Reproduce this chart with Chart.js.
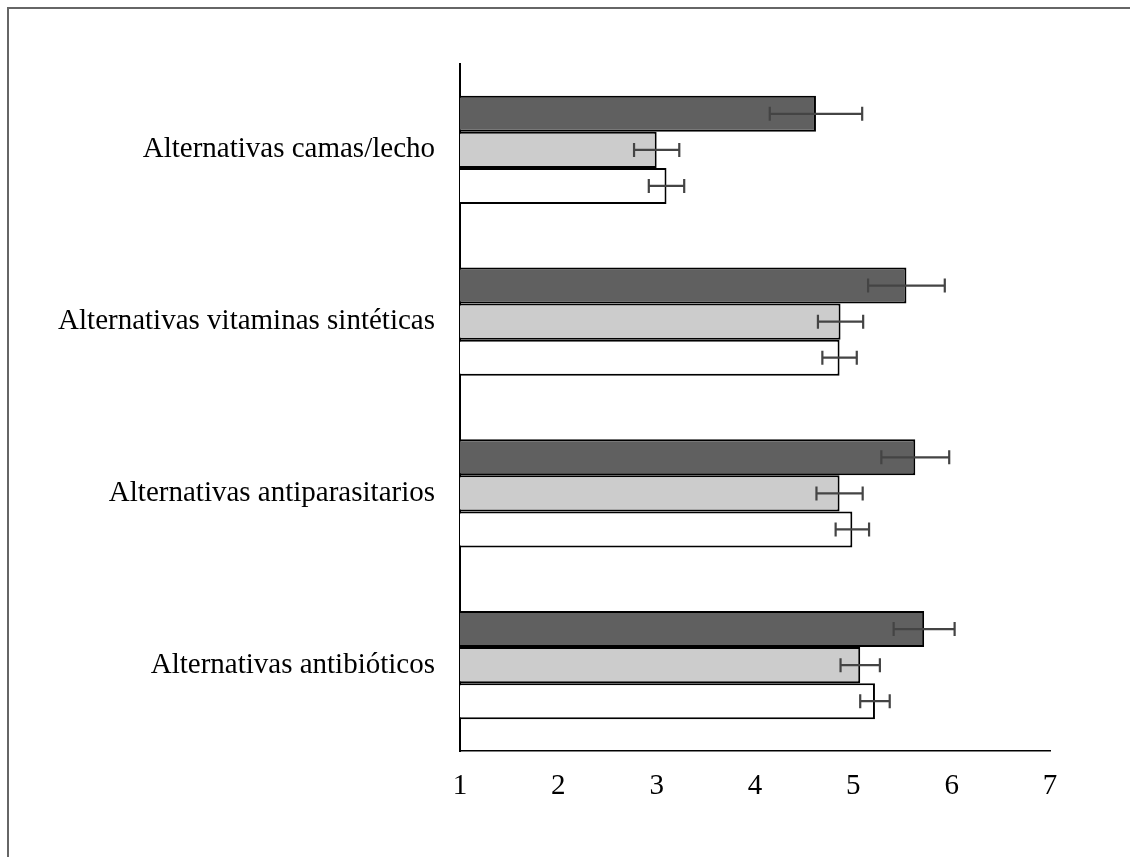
<!DOCTYPE html>
<html>
<head>
<meta charset="utf-8">
<script src="https://cdn.jsdelivr.net/npm/chart.js@4/dist/chart.umd.min.js"></script>
<style>
  html, body { margin: 0; padding: 0; background: #fff; }
  #wrap { position: absolute; left: 0; top: 0; width: 1130px; height: 857px; }
  #frame { position: absolute; left: 7px; top: 7px; right: 0; bottom: 0; border-left: 2px solid #666; border-top: 2px solid #666; pointer-events: none; }
</style>
</head>
<body>
<div id="wrap">
  <canvas id="c" width="1130" height="857"></canvas>
  <div id="frame"></div>
</div>
<script>
const categories = [
  "Alternativas camas/lecho",
  "Alternativas vitaminas sintéticas",
  "Alternativas antiparasitarios",
  "Alternativas antibióticos"
];
const tickLabels = [1, 2, 3, 4, 5, 6, 7];

const seriesA = [4.62, 5.54, 5.63, 5.72];
const errorsA = [0.47, 0.39, 0.345, 0.31];
const seriesB = [3.00, 4.87, 4.86, 5.07];
const errorsB = [0.23, 0.23, 0.235, 0.20];
const seriesC = [3.10, 4.86, 4.99, 5.22];
const errorsC = [0.18, 0.175, 0.17, 0.15];

const errorLists = [errorsA, errorsB, errorsC];

const errorBarPlugin = {
  id: 'errorBars',
  afterDatasetsDraw(chart) {
    const ctx = chart.ctx;
    const xs = chart.scales.x;
    ctx.save();
    ctx.strokeStyle = '#444';
    ctx.lineWidth = 2.2;
    chart.data.datasets.forEach((ds, di) => {
      const meta = chart.getDatasetMeta(di);
      const errs = errorLists[di];
      meta.data.forEach((bar, i) => {
        const v = ds.data[i];
        const e = errs[i];
        const x1 = xs.getPixelForValue(v - e);
        const x2 = xs.getPixelForValue(v + e);
        const y = bar.y;
        const cap = 7;
        ctx.beginPath();
        ctx.moveTo(x1, y); ctx.lineTo(x2, y);
        ctx.moveTo(x1, y - cap); ctx.lineTo(x1, y + cap);
        ctx.moveTo(x2, y - cap); ctx.lineTo(x2, y + cap);
        ctx.stroke();
      });
    });
    ctx.restore();
  }
};

const font = { family: '"Liberation Serif", "Times New Roman", serif', size: 29 };

new Chart(document.getElementById('c'), {
  type: 'bar',
  data: {
    labels: categories,
    datasets: [
      { data: seriesA, backgroundColor: '#606060', borderColor: '#000', borderWidth: 2, borderSkipped: false },
      { data: seriesB, backgroundColor: '#cccccc', borderColor: '#000', borderWidth: 2, borderSkipped: false },
      { data: seriesC, backgroundColor: '#ffffff', borderColor: '#000', borderWidth: 2, borderSkipped: false }
    ]
  },
  options: {
    indexAxis: 'y',
    responsive: false,
    animation: false,
    devicePixelRatio: 1,
    layout: { padding: { top: 64, right: 80, left: 0, bottom: 0 } },
    plugins: { legend: { display: false }, tooltip: { enabled: false } },
    datasets: { bar: { categoryPercentage: 0.63, barPercentage: 1.0 } },
    scales: {
      x: {
        min: 1, max: 7,
        afterBuildTicks(scale) { scale.ticks = tickLabels.map(v => ({ value: v })); },
        afterFit(scale) { scale.height = 106; },
        grid: { display: false, drawTicks: false },
        border: { display: true, color: '#000', width: 1.5 },
        ticks: { color: '#000', font: font, padding: 18, maxRotation: 0, autoSkip: false }
      },
      y: {
        afterFit(scale) { scale.width = 460; },
        grid: { display: false, drawTicks: false },
        border: { display: true, color: '#000', width: 2 },
        ticks: { color: '#000', font: font, padding: 25, autoSkip: false }
      }
    }
  },
  plugins: [errorBarPlugin]
});
</script>
</body>
</html>
